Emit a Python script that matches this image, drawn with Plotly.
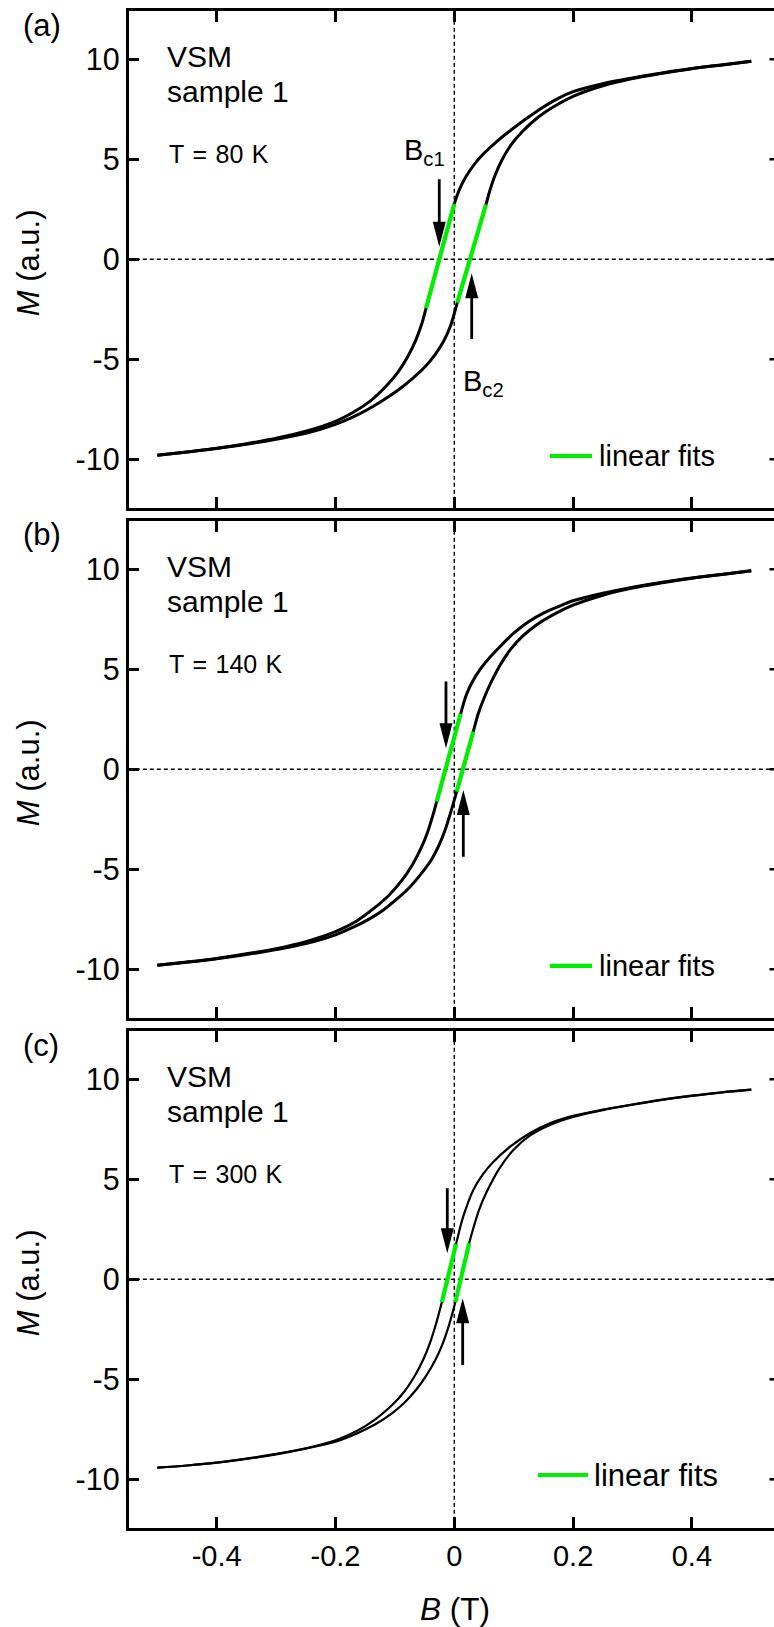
import plotly.graph_objects as go

# ---------------- data: M(B) hysteresis loops (B in T, M in a.u.) ----------------
# Panel (a): T = 80 K  -- descending-field branch, then ascending-field branch
A_DOWN_B = [0.50, 0.45, 0.40, 0.35, 0.30, 0.25, 0.20, 0.175, 0.15, 0.122, 0.095, 0.07, 0.05, 0.035, 0.02, 0.008, 0.0,
            -0.0476, -0.055, -0.065, -0.078, -0.095, -0.115, -0.14, -0.17, -0.20, -0.25, -0.30, -0.35, -0.40, -0.45, -0.50]
A_DOWN_M = [9.90, 9.72, 9.54, 9.32, 9.07, 8.78, 8.38, 8.05, 7.62, 7.05, 6.45, 5.85, 5.30, 4.80, 4.15, 3.45, 2.77,
            -2.45, -3.25, -4.05, -4.85, -5.65, -6.35, -7.05, -7.65, -8.10, -8.60, -8.95, -9.22, -9.45, -9.63, -9.80]
A_UP_B = [-0.50, -0.45, -0.40, -0.35, -0.30, -0.25, -0.20, -0.17, -0.145, -0.12, -0.095, -0.07, -0.05, -0.032, -0.018, -0.006,
          0.005, 0.0534, 0.060, 0.068, 0.080, 0.095, 0.115, 0.14, 0.17, 0.20, 0.25, 0.30, 0.35, 0.40, 0.45, 0.50]
A_UP_M = [-9.80, -9.64, -9.46, -9.25, -9.00, -8.70, -8.25, -7.88, -7.50, -7.05, -6.55, -5.95, -5.40, -4.75, -4.10, -3.30,
          -2.17, 2.75, 3.45, 4.15, 4.95, 5.70, 6.40, 7.08, 7.68, 8.15, 8.68, 9.04, 9.30, 9.53, 9.72, 9.90]
A_FIT1_B, A_FIT1_M = [-0.0476, 0.0], [-2.45, 2.77]
A_FIT2_B, A_FIT2_M = [0.005, 0.0534], [-2.17, 2.75]

# Panel (b): T = 140 K
B_DOWN_B = [0.50, 0.45, 0.40, 0.35, 0.30, 0.25, 0.20, 0.175, 0.15, 0.125, 0.10, 0.08, 0.06, 0.045, 0.03, 0.02, 0.0107,
            -0.0297, -0.036, -0.045, -0.056, -0.07, -0.088, -0.11, -0.135, -0.165, -0.20, -0.25, -0.30, -0.35, -0.40, -0.45, -0.50]
B_DOWN_M = [9.92, 9.74, 9.56, 9.35, 9.10, 8.80, 8.42, 8.13, 7.80, 7.37, 6.80, 6.22, 5.60, 5.05, 4.35, 3.70, 2.77,
            -1.62, -2.30, -3.15, -3.95, -4.75, -5.55, -6.30, -6.95, -7.60, -8.12, -8.62, -8.97, -9.23, -9.46, -9.64, -9.80]
B_UP_B = [-0.50, -0.45, -0.40, -0.35, -0.30, -0.25, -0.20, -0.17, -0.145, -0.12, -0.095, -0.075, -0.055, -0.038, -0.025, -0.015, -0.006,
          0.004, 0.032, 0.040, 0.050, 0.062, 0.077, 0.095, 0.115, 0.14, 0.17, 0.20, 0.25, 0.30, 0.35, 0.40, 0.45, 0.50]
B_UP_M = [-9.80, -9.65, -9.48, -9.27, -9.02, -8.72, -8.28, -7.90, -7.52, -7.05, -6.45, -5.90, -5.20, -4.50, -3.75, -3.00, -2.15,
          -1.12, 1.88, 2.75, 3.55, 4.35, 5.20, 6.00, 6.65, 7.25, 7.78, 8.20, 8.70, 9.06, 9.32, 9.55, 9.74, 9.92]
B_FIT1_B, B_FIT1_M = [-0.0297, 0.0107], [-1.62, 2.77]
B_FIT2_B, B_FIT2_M = [0.004, 0.032], [-1.12, 1.88]

# Panel (c): T = 300 K
C_DOWN_B = [0.50, 0.45, 0.40, 0.35, 0.30, 0.25, 0.20, 0.161, 0.127, 0.094, 0.066, 0.048, 0.032, 0.015, 0.003,
            -0.021, -0.030, -0.040, -0.052, -0.067, -0.085, -0.105, -0.133, -0.165, -0.20, -0.25, -0.30, -0.35, -0.40, -0.45, -0.50]
C_DOWN_M = [9.48, 9.35, 9.18, 8.98, 8.74, 8.48, 8.17, 7.80, 7.30, 6.63, 5.88, 5.25, 4.47, 3.13, 1.77,
            -1.15, -2.15, -3.10, -4.00, -4.85, -5.65, -6.30, -7.00, -7.60, -8.05, -8.45, -8.73, -8.97, -9.17, -9.31, -9.42]
C_UP_B = [-0.50, -0.45, -0.40, -0.35, -0.30, -0.25, -0.20, -0.165, -0.133, -0.105, -0.085, -0.065, -0.048, -0.033, -0.020, -0.009,
          0.0017, 0.025, 0.033, 0.042, 0.055, 0.075, 0.099, 0.127, 0.161, 0.20, 0.25, 0.30, 0.35, 0.40, 0.45, 0.50]
C_UP_M = [-9.42, -9.31, -9.17, -8.98, -8.75, -8.47, -8.12, -7.72, -7.25, -6.70, -6.20, -5.55, -4.85, -4.10, -3.25, -2.30,
          -1.15, 1.80, 2.65, 3.50, 4.40, 5.50, 6.45, 7.18, 7.72, 8.12, 8.46, 8.73, 8.97, 9.17, 9.34, 9.48]
C_FIT1_B, C_FIT1_M = [-0.021, 0.003], [-1.15, 1.77]
C_FIT2_B, C_FIT2_M = [0.0017, 0.025], [-1.15, 1.80]

PANEL_TAGS = ["(a)", "(b)", "(c)"]
SAMPLE_LINES = ["VSM", "sample 1"]
TEMPS = ["T\u2004=\u200480\u2004K", "T\u2004=\u2004140\u2004K", "T\u2004=\u2004300\u2004K"]
LEGEND_TEXT = "linear fits"
X_TICKS = [-0.4, -0.2, 0, 0.2, 0.4]
X_TICK_TEXT = ["-0.4", "-0.2", "0", "0.2", "0.4"]
Y_TICKS = [-10, -5, 0, 5, 10]
Y_TICK_TEXT = ["-10", "-5", "0", "5", "10"]

# coercive-field markers: (x of down arrow, tail M, tip M), (x of up arrow, tip M, tail M)
ARROWS = [
    ((-0.0253, 4.00, 0.63), (0.0293, -0.70, -3.99)),
    ((-0.0140, 4.38, 1.05), (0.0152, -1.04, -4.38)),
    ((-0.0118, 4.55, 1.30), (0.0141, -0.95, -4.29)),
]

PANELS = [
    (A_DOWN_B, A_DOWN_M, A_UP_B, A_UP_M, A_FIT1_B, A_FIT1_M, A_FIT2_B, A_FIT2_M),
    (B_DOWN_B, B_DOWN_M, B_UP_B, B_UP_M, B_FIT1_B, B_FIT1_M, B_FIT2_B, B_FIT2_M),
    (C_DOWN_B, C_DOWN_M, C_UP_B, C_UP_M, C_FIT1_B, C_FIT1_M, C_FIT2_B, C_FIT2_M),
]

# ---------------- layout geometry (pixels) ----------------
W, H = 774, 1627
FONT = "Liberation Sans, Arial, Helvetica, sans-serif"
GREEN = "#00ee00"
PLOT_LEFT = 128.8
ZERO_X_PX = 454.3
PX_PER_T = 594.0
PANEL_CENTERS = [259.3, 769.2, 1279.3]
HALF_H = 248.5
PX_PER_M = 20.0
CURVE_WIDTHS = [3.0, 3.0, 2.2]
# legend sample line (x0, x1), text x, and y offset below panel centre
LEGEND_POS = [(550, 592, 597, 196.7), (550, 592, 597, 196.7), (538, 588, 592, 195.7)]
LEGEND_FONT = [29, 29, 31]

x_range = [(PLOT_LEFT - ZERO_X_PX) / PX_PER_T, (W - ZERO_X_PX) / PX_PER_T]
y_half = HALF_H / PX_PER_M


def px_x(p):
    return p / W


def px_y(p):
    return 1 - p / H


def text_ann(text, x, y, size, xanchor="left", **kw):
    return dict(text=text, xref="paper", yref="paper", x=px_x(x), y=px_y(y),
                xanchor=xanchor, yanchor="middle", showarrow=False,
                font=dict(family=FONT, size=size, color="black"), **kw)


fig = go.Figure()
shapes = []
annotations = []

for i, (db, dm, ub, um, f1b, f1m, f2b, f2m) in enumerate(PANELS):
    n = "" if i == 0 else str(i + 1)
    xa, ya = "x" + n, "y" + n
    c = PANEL_CENTERS[i]
    off = c - PANEL_CENTERS[0]

    lw = CURVE_WIDTHS[i]
    for bx, my in ((db, dm), (ub, um)):
        fig.add_trace(go.Scatter(x=bx, y=my, mode="lines", xaxis=xa, yaxis=ya,
                                 line=dict(color="black", width=lw, shape="spline", smoothing=0.9),
                                 showlegend=False, hoverinfo="skip"))
    for bx, my in ((f1b, f1m), (f2b, f2m)):
        fig.add_trace(go.Scatter(x=bx, y=my, mode="lines", xaxis=xa, yaxis=ya,
                                 line=dict(color=GREEN, width=4.2),
                                 showlegend=False, hoverinfo="skip"))

    last = i == 2
    fig.layout["xaxis" + n] = dict(
        domain=[px_x(PLOT_LEFT), 1.0], range=x_range, anchor=ya,
        showline=True, linewidth=3, linecolor="black", mirror="ticks",
        ticks="inside", ticklen=11, tickwidth=2.6, tickcolor="black",
        tickvals=X_TICKS, ticktext=X_TICK_TEXT, showticklabels=last,
        tickfont=dict(family=FONT, size=29, color="black"),
        showgrid=False, zeroline=False, fixedrange=True,
    )
    fig.layout["yaxis" + n] = dict(
        domain=[px_y(c + HALF_H), px_y(c - HALF_H)], range=[-y_half, y_half], anchor=xa,
        showline=True, linewidth=3, linecolor="black", mirror=True,
        ticks="inside", ticklen=10, tickwidth=2.6, tickcolor="black",
        tickvals=Y_TICKS, ticktext=Y_TICK_TEXT,
        tickfont=dict(family=FONT, size=30.5, color="black"),
        showgrid=False, zeroline=False, fixedrange=True,
    )

    # dashed zero lines
    shapes.append(dict(type="line", xref=xa, yref=ya + " domain", x0=0, x1=0, y0=0, y1=1,
                       line=dict(color="black", width=1.4, dash="4px,3px"), layer="below"))
    shapes.append(dict(type="line", xref=xa + " domain", yref=ya, x0=0, x1=1, y0=0, y1=0,
                       line=dict(color="black", width=1.4, dash="4px,3px"), layer="below"))

    # right-hand ticks of the frame, which runs past the page edge
    for yt in Y_TICKS:
        shapes.append(dict(type="line", xref=xa, yref=ya, x0=x_range[1] - 4.5 / PX_PER_T, x1=x_range[1] + 0.01,
                           y0=yt, y1=yt, line=dict(color="black", width=2.6)))

    # coercive-field arrows
    head_len = 25 / PX_PER_M
    head_half = 6.5 / PX_PER_T
    (dx, dtail, dtip), (ux, utip, utail) = ARROWS[i]
    shapes.append(dict(type="line", xref=xa, yref=ya, x0=dx, x1=dx, y0=dtail, y1=dtip + head_len * 0.9,
                       line=dict(color="black", width=2.8)))
    shapes.append(dict(type="path", xref=xa, yref=ya, fillcolor="black", line=dict(width=0),
                       path=f"M{dx - head_half},{dtip + head_len} L{dx + head_half},{dtip + head_len} L{dx},{dtip} Z"))
    shapes.append(dict(type="line", xref=xa, yref=ya, x0=ux, x1=ux, y0=utail, y1=utip - head_len * 0.9,
                       line=dict(color="black", width=2.8)))
    shapes.append(dict(type="path", xref=xa, yref=ya, fillcolor="black", line=dict(width=0),
                       path=f"M{ux - head_half},{utip - head_len} L{ux + head_half},{utip - head_len} L{ux},{utip} Z"))

    # panel texts
    annotations.append(text_ann(PANEL_TAGS[i], 21, 25 + off, 31))
    annotations.append(text_ann(SAMPLE_LINES[0], 165, 56.4 + off, 30))
    annotations.append(text_ann(SAMPLE_LINES[1], 165, 91.5 + off, 30))
    annotations.append(text_ann(TEMPS[i], 167, 154 + off, 25))
    annotations.append(text_ann("<i>M</i> (a.u.)", 28, c + 3, 31, xanchor="center", textangle=-90))

    # legend entry
    lx0, lx1, tx, dy = LEGEND_POS[i]
    leg_y = c + dy
    shapes.append(dict(type="line", xref="paper", yref="paper", x0=px_x(lx0), x1=px_x(lx1),
                       y0=px_y(leg_y), y1=px_y(leg_y), line=dict(color=GREEN, width=4.2)))
    annotations.append(text_ann(LEGEND_TEXT, tx, leg_y, LEGEND_FONT[i]))

# coercive-field labels in panel (a)
annotations.append(text_ann("B<sub>c1</sub>", 402, 152, 29))
annotations.append(text_ann("B<sub>c2</sub>", 461, 383, 29))
# field axis title
annotations.append(text_ann("<i>B</i> (T)", 455, 1609, 31.5, xanchor="center"))

fig.update_layout(
    width=W, height=H, margin=dict(l=0, r=0, t=0, b=0, autoexpand=False),
    paper_bgcolor="white", plot_bgcolor="white",
    shapes=shapes, annotations=annotations, showlegend=False,
)

fig.write_html("out.html")
